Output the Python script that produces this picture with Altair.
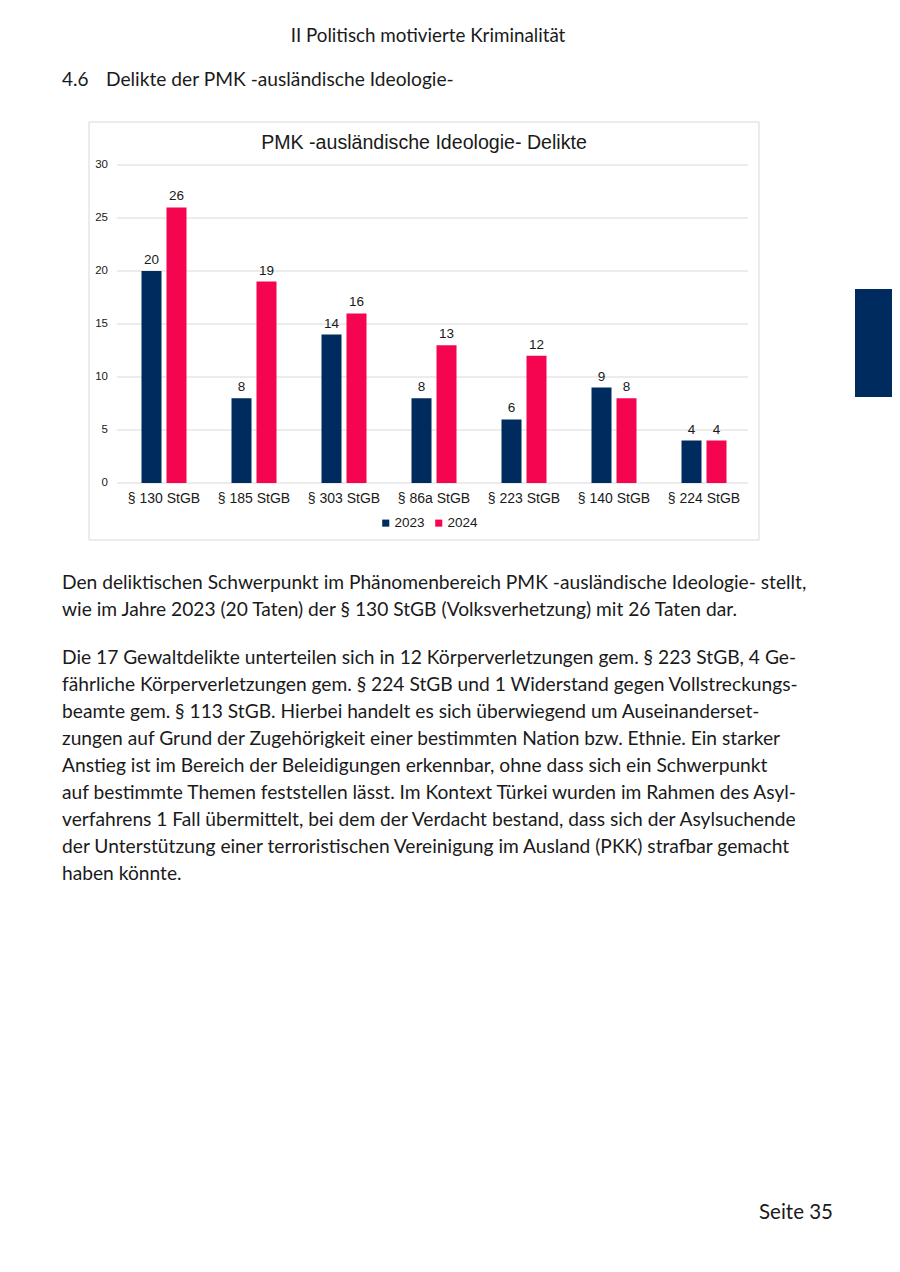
import altair as alt
import pandas as pd

categories = ["§ 130 StGB", "§ 185 StGB", "§ 303 StGB", "§ 86a StGB", "§ 223 StGB", "§ 140 StGB", "§ 224 StGB"]
values_2023 = [20, 8, 14, 8, 6, 9, 4]
values_2024 = [26, 19, 16, 13, 12, 8, 4]
years = ["2023", "2024"]
y_ticks = [0, 5, 10, 15, 20, 25, 30]

header = "II Politisch motivierte Kriminalität"
section_num = "4.6"
section_title = "Delikte der PMK -ausländische Ideologie-"
chart_title = "PMK -ausländische Ideologie- Delikte"
para1 = [
    "Den deliktischen Schwerpunkt im Phänomenbereich PMK -ausländische Ideologie- stellt,",
    "wie im Jahre 2023 (20 Taten) der § 130 StGB (Volksverhetzung) mit 26 Taten dar.",
]
para2 = [
    "Die 17 Gewaltdelikte unterteilen sich in 12 Körperverletzungen gem. § 223 StGB, 4 Ge-",
    "fährliche Körperverletzungen gem. § 224 StGB und 1 Widerstand gegen Vollstreckungs-",
    "beamte gem. § 113 StGB. Hierbei handelt es sich überwiegend um Auseinanderset-",
    "zungen auf Grund der Zugehörigkeit einer bestimmten Nation bzw. Ethnie. Ein starker",
    "Anstieg ist im Bereich der Beleidigungen erkennbar, ohne dass sich ein Schwerpunkt",
    "auf bestimmte Themen feststellen lässt. Im Kontext Türkei wurden im Rahmen des Asyl-",
    "verfahrens 1 Fall übermittelt, bei dem der Verdacht bestand, dass sich der Asylsuchende",
    "der Unterstützung einer terroristischen Vereinigung im Ausland (PKK) strafbar gemacht",
    "haben könnte.",
]
page_label = "Seite 35"

NAVY = "#002B5E"
PINK = "#F5054F"
PAGE_FONT = "Lato"
CHART_FONT = "Liberation Sans"
TXT = "#1a1a1a"

rows = []
for c, a, b in zip(categories, values_2023, values_2024):
    rows.append({"cat": c, "year": "2023", "val": a})
    rows.append({"cat": c, "year": "2024", "val": b})
df = pd.DataFrame(rows)
cat_df = pd.DataFrame({"cat": categories})
tick_df = pd.DataFrame({"v": y_ticks})

xscale = alt.Scale(domain=categories, range=[111, 741], paddingInner=0.5, paddingOuter=0.25)
yscale = alt.Scale(domain=[0, 30], range=[475, 157])
xoff = alt.Scale(domain=years, paddingInner=0.2)
cscale = alt.Scale(domain=years, range=[NAVY, PINK])

one = alt.Data(values=[{}])


def txt(s, x, y, size, font=PAGE_FONT, align="left", color=TXT, weight="normal"):
    return alt.Chart(one).mark_text(
        text=s, font=font, fontSize=size, align=align, baseline="middle", color=color, fontWeight=weight
    ).encode(x=alt.value(x), y=alt.value(y))


layers = []
# chart box
layers.append(alt.Chart(one).mark_rect(fill="white", stroke="#d9d9d9", strokeWidth=1).encode(
    x=alt.value(81), x2=alt.value(751), y=alt.value(114), y2=alt.value(532)))
# side tab
layers.append(alt.Chart(one).mark_rect(fill=NAVY).encode(
    x=alt.value(847), x2=alt.value(890), y=alt.value(281), y2=alt.value(389)))
# gridlines
layers.append(alt.Chart(tick_df).mark_rule(color="#d9d9d9", strokeWidth=1).encode(
    y=alt.Y("v:Q", scale=yscale, axis=None), x=alt.value(109), x2=alt.value(740)))
# y tick labels
layers.append(alt.Chart(tick_df).mark_text(font=CHART_FONT, fontSize=11.5, align="right", baseline="middle", color="#1a1a1a").encode(
    y=alt.Y("v:Q", scale=yscale, axis=None), x=alt.value(100), text="v:Q"))
# bars
layers.append(alt.Chart(df).mark_bar().encode(
    x=alt.X("cat:N", scale=xscale, axis=None, sort=categories),
    xOffset=alt.XOffset("year:N", scale=xoff),
    y=alt.Y("val:Q", scale=yscale, axis=None),
    color=alt.Color("year:N", scale=cscale, legend=alt.Legend(
        title=None, orient="none", legendX=371, legendY=508, direction="horizontal",
        symbolType="square", symbolSize=50, labelFont=CHART_FONT, labelFontSize=13.5,
        labelColor="#1a1a1a", columnPadding=7, labelOffset=2, symbolStrokeWidth=0)),
))
# value labels
layers.append(alt.Chart(df).mark_text(font=CHART_FONT, fontSize=13.5, baseline="bottom", dy=-4, color="#1a1a1a").encode(
    x=alt.X("cat:N", scale=xscale, axis=None, sort=categories),
    xOffset=alt.XOffset("year:N", scale=xoff),
    y=alt.Y("val:Q", scale=yscale, axis=None),
    text="val:Q",
))
# category labels
layers.append(alt.Chart(cat_df).mark_text(font=CHART_FONT, fontSize=14, baseline="middle", color="#1a1a1a").encode(
    x=alt.X("cat:N", scale=xscale, axis=None, sort=categories),
    y=alt.value(491),
    text="cat:N",
))
# chart title
layers.append(txt(chart_title, 416, 135, 19.6, font=CHART_FONT, align="center"))
# page texts
layers.append(txt(header, 420, 28, 18.8, align="center"))
layers.append(txt(section_num, 54, 72, 19))
layers.append(txt(section_title, 98, 72, 19.2))
for i, line in enumerate(para1):
    layers.append(txt(line, 54, 575 + 27 * i, 19.2))
for i, line in enumerate(para2):
    layers.append(txt(line, 54, 650 + 27 * i, 19.2))
layers.append(txt(page_label, 825, 1205, 20.5, align="right"))

chart = alt.layer(*layers).properties(
    width=884, height=1256, padding=0, background="white",
    autosize=alt.AutoSizeParams(type="fit", contains="padding"),
).configure_view(stroke=None)

chart.save("out.html", embed_options={"renderer": "svg", "actions": False})
